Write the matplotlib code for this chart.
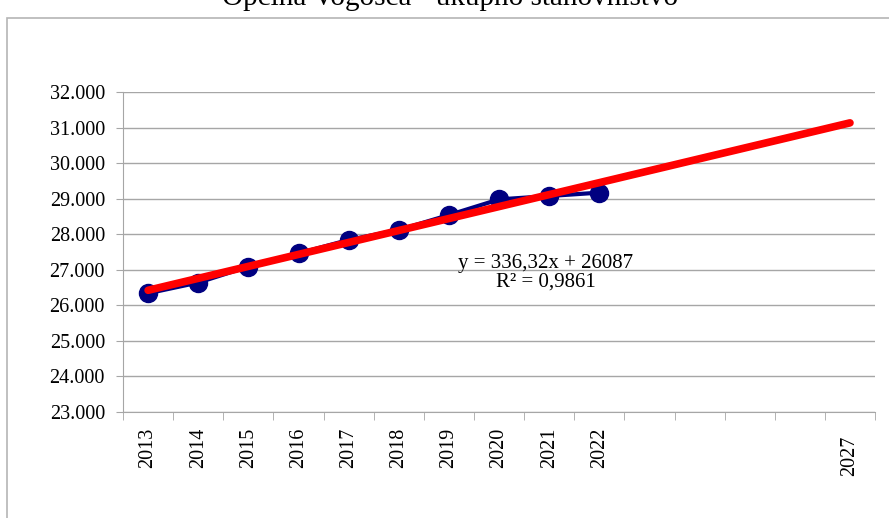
import numpy as np
import matplotlib.pyplot as plt
from matplotlib.patches import Rectangle
import matplotlib.transforms as mtransforms

plt.rcParams['font.family'] = ['Liberation Serif', 'DejaVu Serif']

# categories on the x axis (blank slots between 2022 and 2027)
categories = ['2013', '2014', '2015', '2016', '2017', '2018', '2019', '2020',
              '2021', '2022', '', '', '', '', '2027']
years = ['2013', '2014', '2015', '2016', '2017', '2018', '2019', '2020', '2021', '2022']
population = [26340, 26640, 27090, 27460, 27840, 28120, 28540, 28980, 29075, 29170]

# linear trend as printed on the chart
slope = 336.32
intercept = 26087
r2 = 0.9861

fig = plt.figure(figsize=(8.89, 5.18), dpi=100)
ax = fig.add_axes([0.1384, 0.2046, 0.8459, 0.6178])

# chart frame
fig.patches.append(Rectangle((7 / 889, -0.01), 1.0, 1 - 18 / 518 + 0.01,
                             transform=fig.transFigure, fill=False,
                             edgecolor='#b5b5b5', linewidth=1.2))

fig.text(0.506, 1 - 5 / 518, 'Općina Vogošća - ukupno stanovništvo',
         ha='center', va='baseline', fontsize=21)

x_data = np.arange(len(years))
ax.plot(x_data, population, color='#000080', linewidth=3, marker='o',
        markersize=13, zorder=3)

x_trend = np.array([0, len(categories) - 1])
y_trend = slope * (x_trend + 1) + intercept
ax.plot(x_trend, y_trend, color='#ff0000', linewidth=5.5,
        solid_capstyle='round', zorder=4)

ax.text(7.93, 26920, 'y = 336,32x + 26087\nR² = 0,9861',
        ha='center', va='center', fontsize=15, linespacing=1.0, zorder=5)

ax.set_xlim(-0.5, len(categories) - 0.5)
ax.set_ylim(23000, 32000)
ax.set_yticks(np.arange(23000, 32001, 1000))
ax.set_yticklabels([f'{v // 1000}.000' for v in range(23000, 32001, 1000)])
ax.grid(axis='y', color='#a6a6a6', linewidth=1)
ax.set_axisbelow(True)

ax.set_xticks(np.arange(len(categories)))
ax.set_xticklabels(categories, rotation=90, va='top')
ax.set_xticks(np.arange(len(categories) + 1) - 0.5, minor=True)
ax.tick_params(axis='x', which='major', length=0, pad=11, labelsize=14.5)
ax.tick_params(axis='x', which='minor', length=6, color='#a6a6a6', direction='out')
ax.tick_params(axis='y', length=5, color='#a6a6a6', labelsize=14.5, pad=8)

for side in ['top', 'right']:
    ax.spines[side].set_visible(False)
for side in ['left', 'bottom']:
    ax.spines[side].set_color('#a6a6a6')

# last label sits a little lower in the original
lab = ax.get_xticklabels()[-1]
lab.set_transform(lab.get_transform() +
                  mtransforms.ScaledTranslation(0, -8 / 100, fig.dpi_scale_trans))

fig.savefig('out.png', dpi=100)
